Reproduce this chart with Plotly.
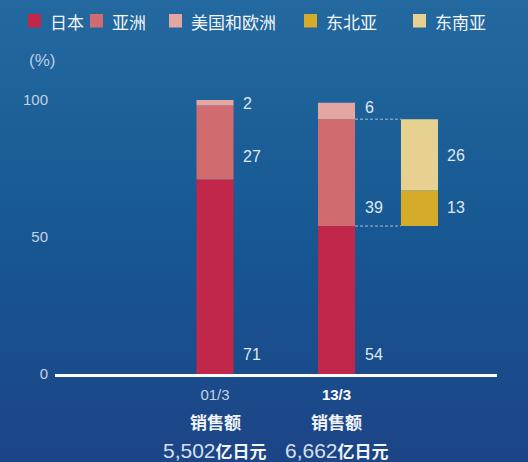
import base64
import numpy as np
import plotly.graph_objects as go

# ---------------- data ----------------
periods = ["01/3", "13/3"]
japan = [71, 54]
asia = [27, 39]
us_eu = [2, 6]
ne_asia = [13]
se_asia = [26]
sales_amount = ["5,502", "6,662"]
series_names = ["日本", "亚洲", "美国和欧洲", "东北亚", "东南亚"]
y_ticks = [0, 50, 100]

# ---------------- style ----------------
colors = ["#c1274b", "#d06b6f", "#e3a6a3", "#d4ac2a", "#e6d191"]
x_pos = [1, 2]
x_break = 2.683
bar_w = 0.305
narrow = "Liberation Sans Narrow, Arial Narrow, sans-serif"
label_font = dict(family=narrow, size=16, color="#dfe8f2")
cjk = "Noto Sans CJK SC, sans-serif"
legend_sq_x = [28, 90, 169, 304, 413]   # legend square left edges (px)

# plot area geometry (pixels)
W, H = 528, 462
L, R, T, B = 55, 31, 86, 88
pw, ph = W - L - R, H - T - B
px = lambda p: (p - L) / pw          # pixel x -> paper x
py = lambda p: (H - B - p) / ph      # pixel y -> paper y

# cumulative bases
japan_a, asia_a, useu_a = map(np.array, (japan, asia, us_eu))
asia_base = japan_a
useu_base = japan_a + asia_a
ne_base = np.array([japan[1]])
se_base = ne_base + np.array(ne_asia)

fig = go.Figure()
fig.add_bar(x=x_pos, y=japan, name=series_names[0], marker_color=colors[0], width=bar_w)
fig.add_bar(x=x_pos, y=asia, base=asia_base, name=series_names[1], marker_color=colors[1], width=bar_w)
fig.add_bar(x=x_pos, y=us_eu, base=useu_base, name=series_names[2], marker_color=colors[2], width=bar_w)
fig.add_bar(x=[x_break], y=ne_asia, base=ne_base, name=series_names[3], marker_color=colors[3], width=bar_w)
fig.add_bar(x=[x_break], y=se_asia, base=se_base, name=series_names[4], marker_color=colors[4], width=bar_w)
fig.update_traces(marker_line_width=0, hoverinfo="skip", showlegend=False)

# value labels
lbl_off = {"japan": 7.3, "asia": [8.2, 6.6], "useu": [0.9, 4.4], "ne": 6.6, "se": 12.9}
ann = []
def lab(x, y, v):
    ann.append(dict(x=x, y=y, text=str(v), showarrow=False, xanchor="left", yanchor="middle",
                    xshift=26, font=label_font))
for i, x in enumerate(x_pos):
    lab(x, lbl_off["japan"], japan[i])
    lab(x, asia_base[i] + lbl_off["asia"][i], asia[i])
    lab(x, useu_base[i] + lbl_off["useu"][i], us_eu[i])
lab(x_break, ne_base[0] + lbl_off["ne"], ne_asia[0])
lab(x_break, se_base[0] + lbl_off["se"], se_asia[0])

# (%) label
ann.append(dict(xref="paper", yref="paper", x=px(27), y=py(60), text="(%)",
                showarrow=False, xanchor="left", yanchor="middle",
                font=dict(family=narrow, size=17, color="#b9cde2")))

# sales labels under ticks
for i, x in enumerate(x_pos):
    ann.append(dict(x=x, yref="paper", y=py(421), text="<b>销售额</b>", showarrow=False,
                    yanchor="middle", font=dict(family=cjk, size=17, color="#f2f5f9")))
    ann.append(dict(x=x, yref="paper", y=py(450),
                    text=f"<span style='font-family:Liberation Sans, sans-serif;font-size:21px;color:#d5e0ec'>{sales_amount[i]}</span><b>亿日元</b>",
                    showarrow=False, yanchor="middle", font=dict(family=cjk, size=17, color="#f2f5f9")))

shapes = []
# legend (squares + names)
for i, name in enumerate(series_names):
    x0 = legend_sq_x[i]
    shapes.append(dict(type="rect", xref="paper", yref="paper", x0=px(x0), x1=px(x0 + 13),
                       y0=py(27.5), y1=py(14), fillcolor=colors[i], line_width=0))
    ann.append(dict(xref="paper", yref="paper", x=px(x0 + 20), y=py(21), text=name, showarrow=False,
                    xanchor="left", yanchor="middle", font=dict(family=cjk, size=17, color="#f2f5f9")))

# dashed connector lines
bar2_right = x_pos[1] + bar_w / 2
bar3_left = x_break - bar_w / 2
for yv in (useu_base[1], ne_base[0]):
    shapes.append(dict(type="line", xref="x", yref="y", x0=bar2_right, x1=bar3_left, y0=yv, y1=yv,
                       line=dict(color="#a9bfd6", width=1, dash="3px,2px")))

# background gradient
svg = ("<svg xmlns='http://www.w3.org/2000/svg' width='10' height='100' preserveAspectRatio='none'>"
       "<defs><linearGradient id='g' x1='0' y1='0' x2='0' y2='1'>"
       "<stop offset='0' stop-color='#23699f'/><stop offset='0.5' stop-color='#175892'/>"
       "<stop offset='1' stop-color='#1c4486'/></linearGradient></defs>"
       "<rect width='10' height='100' fill='url(#g)'/></svg>")
src = "data:image/svg+xml;base64," + base64.b64encode(svg.encode()).decode()

fig.update_layout(
    width=W, height=H,
    margin=dict(l=L, r=R, t=T, b=B, autoexpand=False),
    barmode="overlay",
    paper_bgcolor="#1a5590", plot_bgcolor="rgba(0,0,0,0)",
    showlegend=False,
    xaxis=dict(range=[1 - (215 - L) / 121.5, 2 + (W - R - 336.5) / 121.5], tickvals=x_pos,
               ticktext=[periods[0], f"<span style='color:#ffffff'><b>{periods[1]}</b></span>"],
               showgrid=False, zeroline=False, showline=True, linecolor="#ffffff", linewidth=2.5,
               ticks="", ticklabelstandoff=5,
               tickfont=dict(family=narrow, size=15, color="#c2d3e5")),
    yaxis=dict(range=[0, ph / 2.74], tickvals=y_ticks, showgrid=False, zeroline=False, showline=False,
               ticks="", ticklabelstandoff=6,
               tickfont=dict(family=narrow, size=15, color="#c2d3e5")),
    annotations=ann, shapes=shapes,
    images=[dict(source=src, xref="paper", yref="paper", x=-L / pw, y=(H - B) / ph,
                 sizex=W / pw, sizey=H / ph, sizing="stretch", layer="below",
                 xanchor="left", yanchor="top")],
)

fig.write_html("out.html", config={"displayModeBar": False},
               post_script="document.body.style.margin='0';")
